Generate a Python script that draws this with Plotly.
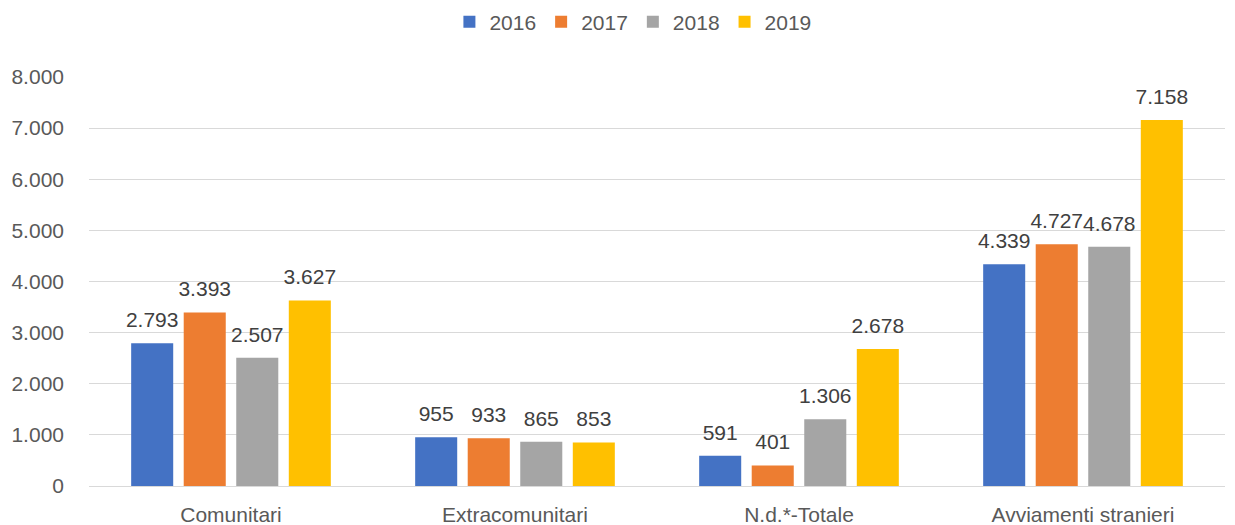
import plotly.graph_objects as go

categories = ["Comunitari", "Extracomunitari", "N.d.*-Totale", "Avviamenti stranieri"]
years = ["2016", "2017", "2018", "2019"]
values_2016 = [2793, 955, 591, 4339]
values_2017 = [3393, 933, 401, 4727]
values_2018 = [2507, 865, 1306, 4678]
values_2019 = [3627, 853, 2678, 7158]
y_ticks = [0, 1000, 2000, 3000, 4000, 5000, 6000, 7000, 8000]

series = [values_2016, values_2017, values_2018, values_2019]
colors = ["#4472C4", "#ED7D31", "#A5A5A5", "#FFC000"]
font_family = "Liberation Sans, Arial, sans-serif"

fig = go.Figure()
for year, vals, col in zip(years, series, colors):
    fig.add_trace(go.Bar(
        x=categories,
        y=vals,
        name=year,
        marker=dict(color=col, line=dict(width=0)),
    ))

# etichette dati: scatter raggruppati come le barre, un po' più in alto
for year, vals in zip(years, series):
    fig.add_trace(go.Scatter(
        x=categories,
        y=vals,
        mode="markers+text",
        marker=dict(size=16, color="rgba(0,0,0,0)"),
        text=[f"{v:,}".replace(",", ".") for v in vals],
        textposition="top center",
        textfont=dict(size=21, color="#404040", family=font_family),
        showlegend=False,
        hoverinfo="skip",
        cliponaxis=False,
    ))

# la pagina ha un margine di 8px attorno al grafico
fig.update_layout(
    width=1235,
    height=525,
    barmode="group",
    bargap=0.26,
    bargroupgap=0.2,
    scattermode="group",
    scattergap=0.26,
    separators=",.",
    paper_bgcolor="white",
    plot_bgcolor="white",
    margin=dict(l=81, r=18, t=69, b=47, autoexpand=False),
    font=dict(family=font_family, color="#595959", size=20),
    legend=dict(
        orientation="h",
        x=0.506,
        xanchor="center",
        xref="container",
        y=0.973,
        yanchor="middle",
        yref="container",
        font=dict(size=21, color="#595959"),
        itemwidth=30,
        traceorder="normal",
    ),
    showlegend=True,
)

fig.update_xaxes(
    automargin=False,
    showgrid=False,
    showline=True,
    linecolor="#D9D9D9",
    linewidth=1,
    ticks="",
    ticklabelstandoff=10,
    tickfont=dict(size=21, color="#595959"),
)

fig.update_yaxes(
    automargin=False,
    range=[0, 8000],
    tickvals=y_ticks,
    tickformat=",d",
    showgrid=True,
    gridcolor="#D9D9D9",
    gridwidth=1,
    zeroline=False,
    showline=False,
    ticks="",
    ticklabelstandoff=24,
    tickfont=dict(size=21, color="#595959"),
)

fig.write_html("out.html")
